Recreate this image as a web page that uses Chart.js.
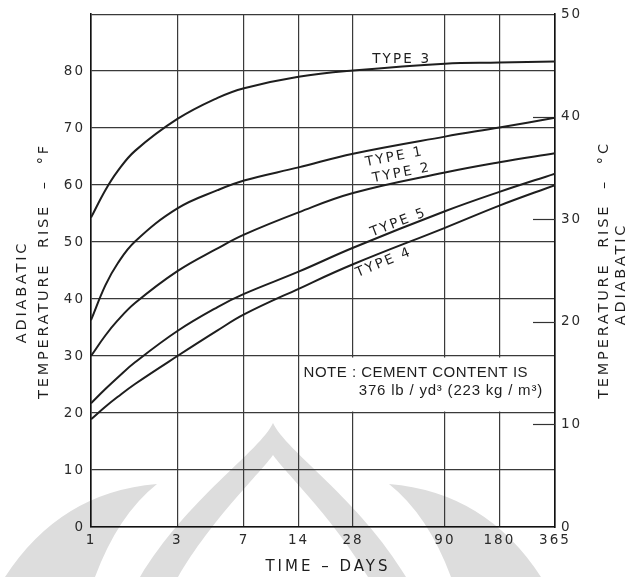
<!DOCTYPE html>
<html>
<head>
<meta charset="utf-8">
<script src="https://cdn.jsdelivr.net/npm/chart.js@4.4.1/dist/chart.umd.min.js"></script>
<style>
  html, body { margin: 0; padding: 0; background: #ffffff; }
  #wrap { width: 632px; height: 577px; }
</style>
</head>
<body>
<div id="wrap"><canvas id="c" width="632" height="577"></canvas></div>
<script>
// Age of concrete, days
const days = [1, 1.2, 1.4, 1.75, 3, 5, 7, 14, 28, 90, 180, 365];
// Adiabatic temperature rise, degrees F, per cement type
const type1 = [36.3, 42.4, 46.2, 50.1, 55.9, 59.1, 60.8, 63.1, 65.5, 68.5, 70.1, 71.8];
const type2 = [30.0, 33.6, 36.2, 39.3, 44.9, 48.9, 51.3, 55.2, 58.6, 62.2, 64.0, 65.6];
const type3 = [54.3, 59.1, 62.4, 66.0, 71.6, 75.3, 77.0, 79.0, 80.1, 81.3, 81.5, 81.7];
const type4 = [18.9, 21.1, 22.8, 25.1, 30.0, 34.5, 37.3, 41.8, 46.1, 52.5, 56.4, 60.0];
const type5 = [21.7, 24.2, 26.2, 28.9, 34.4, 38.6, 40.9, 44.8, 49.0, 55.4, 58.8, 62.0];

// Axis tick labels
const dayTicks = [1, 3, 7, 14, 28, 90, 180, 365];
const fTicks = [0, 10, 20, 30, 40, 50, 60, 70, 80];
const cTicks = [0, 10, 20, 30, 40, 50];

// Curve captions: [text, day, degF, angle in degrees]
const captions = [
  ['TYPE 3', 52, 82.0, 0],
  ['TYPE 1', 47.5, 64.9, -11],
  ['TYPE 2', 52, 62.1, -11],
  ['TYPE 5', 50, 53.4, -21],
  ['TYPE 4', 41.5, 46.4, -22]
];
const noteLines = ['NOTE : CEMENT CONTENT IS', '376 lb / yd\u00B3 (223 kg / m\u00B3)'];

const INK = '#1e1e1e';
const FONT = '"DejaVu Sans", sans-serif';

function pairs(ys) { return days.map((d, i) => ({ x: d, y: ys[i] })); }
function curve(label, ys) {
  return {
    label, data: pairs(ys), yAxisID: 'y',
    borderColor: INK, borderWidth: 2, pointRadius: 0,
    tension: 0.4, fill: false
  };
}

// Faint page emblem printed behind the lower part of the figure
const emblem = {
  id: 'emblem',
  beforeDraw(chart) {
    const ctx = chart.ctx;
    ctx.save();
    ctx.fillStyle = '#dddddd';
    // left sweep
    ctx.beginPath();
    ctx.moveTo(157, 484);
    ctx.quadraticCurveTo(60, 492, 5, 577);
    ctx.lineTo(95, 577);
    ctx.quadraticCurveTo(118, 515, 157, 484);
    ctx.fill();
    // right sweep
    ctx.beginPath();
    ctx.moveTo(389, 484);
    ctx.quadraticCurveTo(486, 492, 541, 577);
    ctx.lineTo(451, 577);
    ctx.quadraticCurveTo(428, 515, 389, 484);
    ctx.fill();
    // central pointed arch
    ctx.beginPath();
    ctx.moveTo(140, 577);
    ctx.bezierCurveTo(186, 500, 261, 450, 273, 423);
    ctx.bezierCurveTo(285, 450, 360, 500, 406, 577);
    ctx.lineTo(368, 577);
    ctx.bezierCurveTo(335, 520, 283, 470, 273, 455);
    ctx.bezierCurveTo(263, 470, 211, 520, 178, 577);
    ctx.closePath();
    ctx.fill();
    ctx.restore();
    ctx.letterSpacing = '2px';
  }
};

// Text drawing: spaced lettering for titles, captions and the note
const lettering = {
  id: 'lettering',
  beforeDatasetsDraw(chart) {
    const { ctx, chartArea, scales } = chart;
    const x = scales.x, y = scales.y, y2 = scales.y2;
    ctx.save();
    // blank panel behind the note
    const left = x.getPixelForValue(14) + 1.5;
    const right = chartArea.right - 1.5;
    const top = y.getPixelForValue(30) + 1.5;
    const bottom = y.getPixelForValue(20) - 1.5;
    ctx.fillStyle = '#ffffff';
    ctx.fillRect(left, top, right - left, bottom - top);
    // short inner ticks of the Celsius scale
    ctx.strokeStyle = '#333';
    ctx.lineWidth = 1.2;
    cTicks.forEach(c => {
      if (c === 0 || c === 50) return;
      const py = Math.round(y2.getPixelForValue(c)) + 0.5;
      ctx.beginPath();
      ctx.moveTo(chartArea.right - 22, py);
      ctx.lineTo(chartArea.right, py);
      ctx.stroke();
    });
    ctx.restore();
  },
  afterDraw(chart) {
    const { ctx, scales } = chart;
    const x = scales.x, y = scales.y;
    ctx.save();
    ctx.fillStyle = INK;
    ctx.textAlign = 'center';
    ctx.textBaseline = 'middle';

    // captions along the curves
    ctx.font = '13.5px ' + FONT;
    ctx.letterSpacing = '2.2px';
    captions.forEach(([t, d, f, a]) => {
      ctx.save();
      ctx.translate(x.getPixelForValue(d), y.getPixelForValue(f));
      ctx.rotate(a * Math.PI / 180);
      ctx.fillText(t, 0, 0);
      ctx.restore();
    });

    // note
    const nx = x.getPixelForValue(14);
    const ny = y.getPixelForValue(30);
    ctx.font = '15px "Liberation Sans", sans-serif';
    ctx.letterSpacing = '0.5px';
    ctx.textAlign = 'left';
    ctx.fillText(noteLines[0], nx + 5, ny + 17);
    ctx.letterSpacing = '0.8px';
    ctx.textAlign = 'right';
    ctx.fillText(noteLines[1], chart.chartArea.right - 12, ny + 35);

    // axis titles
    ctx.font = '14.5px ' + FONT;
    ctx.letterSpacing = '2.8px';
    const vtext = (t, cx, cy) => {
      ctx.save();
      ctx.translate(cx, cy);
      ctx.rotate(-Math.PI / 2);
      ctx.textAlign = 'center';
      ctx.fillText(t, 0, 0);
      ctx.restore();
    };
    vtext('ADIABATIC', 22, 292);
    vtext('TEMPERATURE  RISE  \u2013  \u00B0F', 44, 271);
    vtext('TEMPERATURE  RISE  \u2013  \u00B0C', 604, 270);
    vtext('ADIABATIC', 621, 274);

    ctx.font = '15px ' + FONT;
    ctx.letterSpacing = '3px';
    ctx.textAlign = 'center';
    ctx.fillText('TIME \u2013 DAYS', 328, 567);
    ctx.restore();
    ctx.letterSpacing = '0px';
  }
};

new Chart(document.getElementById('c'), {
  type: 'line',
  data: {
    datasets: [
      curve('Type 3', type3),
      curve('Type 1', type1),
      curve('Type 2', type2),
      curve('Type 5', type5),
      curve('Type 4', type4)
    ]
  },
  options: {
    responsive: false,
    animation: false,
    devicePixelRatio: 1,
    layout: { padding: { top: 12, left: 0, right: 0, bottom: 0 } },
    plugins: { legend: { display: false }, tooltip: { enabled: false } },
    scales: {
      x: {
        type: 'logarithmic', min: 1, max: 365,
        afterBuildTicks: s => { s.ticks = dayTicks.map(v => ({ value: v })); },
        afterFit: s => { s.height = 50; },
        ticks: {
          autoSkip: false, maxRotation: 0, padding: 5,
          color: '#2a2a2a', font: { family: FONT, size: 13.5 },
          callback: v => String(v)
        },
        grid: { color: '#3a3a3a', lineWidth: 1.2, drawTicks: false },
        border: { color: '#111', width: 1.6 }
      },
      y: {
        type: 'linear', position: 'left', min: 0, max: 90,
        afterBuildTicks: s => { s.ticks = fTicks.concat([90]).map(v => ({ value: v })); },
        afterFit: s => { s.width = 91; },
        ticks: {
          padding: 6, color: '#2a2a2a', font: { family: FONT, size: 13.5 },
          callback: v => (fTicks.includes(v) ? String(v) : '')
        },
        grid: { color: '#3a3a3a', lineWidth: 1.2, drawTicks: false },
        border: { color: '#111', width: 1.6 }
      },
      y2: {
        type: 'linear', position: 'right', min: 0, max: 50,
        afterBuildTicks: s => { s.ticks = cTicks.map(v => ({ value: v })); },
        afterFit: s => { s.width = 77; },
        ticks: {
          padding: 6, color: '#2a2a2a', font: { family: FONT, size: 13.5 },
          callback: v => String(v)
        },
        grid: { drawOnChartArea: false, drawTicks: false },
        border: { color: '#111', width: 1.6 }
      }
    }
  },
  plugins: [emblem, lettering]
});
</script>
</body>
</html>
